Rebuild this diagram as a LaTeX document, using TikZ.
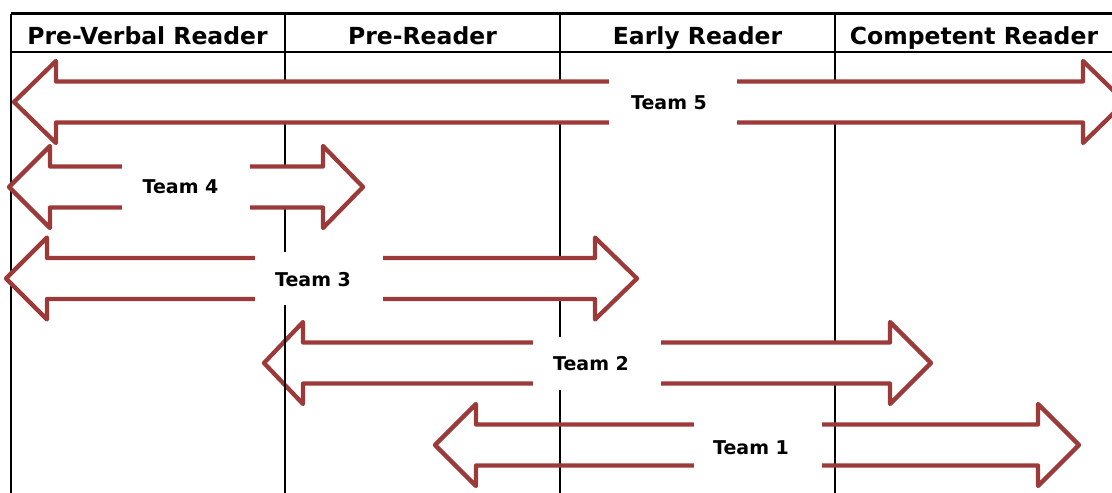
\documentclass[tikz,border=0pt]{standalone}
\usepackage{fontspec}
\setmainfont{DejaVu Sans}
\definecolor{arrowred}{RGB}{155,58,56}
\tikzset{
  tablerule/.style={line width=2.2pt, black},
  blockarrow/.style={draw=arrowred, line width=4.3pt, line join=round},
  filledarrow/.style={blockarrow, fill=white},
  teambox/.style={fill=white, inner sep=0pt, minimum width=128pt, minimum height=53pt},
  teamtext/.style={inner sep=0pt, font=\bfseries\fontsize{19}{21}\selectfont},
  headlabel/.style={anchor=base, inner sep=0pt, font=\bfseries\fontsize{23.5}{26}\selectfont}
}
% #1 style, #2 centre y, #3 left tip, #4 left head back, #5 right head back, #6 right tip
\newcommand\teamarrow[6]{%
  \draw[#1] (#3,#2) -- (#4,#2-41) -- (#4,#2-20.5) -- (#5,#2-20.5) -- (#5,#2-41) -- (#6,#2)
    -- (#5,#2+41) -- (#5,#2+20.5) -- (#4,#2+20.5) -- (#4,#2+41) -- cycle;}
\begin{document}
\begin{tikzpicture}[x=1pt,y=-1pt]
\useasboundingbox (0,0) rectangle (1112,493);
\clip (0,0) rectangle (1112,493);
% table
\draw[tablerule] (11,13.5) -- (1115,13.5);
\draw[tablerule] (11,52) -- (1115,52);
\draw[tablerule] (11,13.5) -- (11,500);
\draw[tablerule] (560,13.5) -- (560,500);
\draw[tablerule] (835,13.5) -- (835,500);
\node[headlabel] (h1) at (147.5,44) {Pre-Verbal Reader};
\node[headlabel] (h2) at (422.5,44) {Pre-Reader};
\node[headlabel] (h3) at (697.5,44) {Early Reader};
\node[headlabel] (h4) at (974,44) {Competent Reader};
% Team 2
\teamarrow{filledarrow}{363}{264}{303}{890}{931}
\draw[tablerule] (285,13.5) -- (285,500);
% Team 5, 4, 3
\teamarrow{filledarrow}{102}{14}{56}{1083}{1125}
\teamarrow{filledarrow}{187}{9}{50}{323}{363}
\teamarrow{filledarrow}{278.5}{6}{47}{595}{637}
% Team 1
\teamarrow{blockarrow}{445}{435}{476}{1038}{1079}
% labels
\node[teambox] (b5) at (673,102) {};
\node[teambox] (b4) at (185.5,187) {};
\node[teambox] (b3) at (319,278.5) {};
\node[teambox] (b2) at (597,363) {};
\node[teambox] (b1) at (758,445) {};
\node[teamtext] (t5) at ([xshift=-4pt,yshift=-1pt]b5.center) {Team 5};
\node[teamtext] (t4) at ([xshift=-5pt]b4.center) {Team 4};
\node[teamtext] (t3) at ([xshift=-6pt,yshift=-1pt]b3.center) {Team 3};
\node[teamtext] (t2) at ([xshift=-6pt,yshift=-1pt]b2.center) {Team 2};
\node[teamtext] (t1) at ([xshift=-7pt,yshift=-3pt]b1.center) {Team 1};
\end{tikzpicture}
\end{document}
